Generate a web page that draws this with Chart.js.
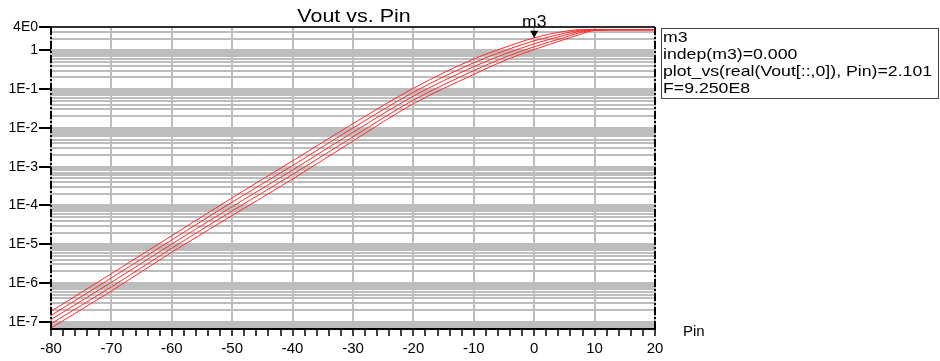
<!DOCTYPE html>
<html>
<head>
<meta charset="utf-8">
<script src="https://cdn.jsdelivr.net/npm/chart.js@4/dist/chart.umd.min.js"></script>
<style>
  html, body { margin: 0; padding: 0; background: #fff; }
  #wrap { width: 940px; height: 361px; }
</style>
</head>
<body>
<div id="wrap"><canvas id="chart" width="940" height="361"></canvas></div>
<script>
// Pin sweep (x values)
const pin = [-80, -70, -60, -50, -40, -30, -20, -10, -5, 0, 5, 7.5, 10, 15, 20];

// Vout traces (top trace to bottom trace)
const vout1 = [1.86e-7, 1.74e-6, 1.66e-5, 1.58e-4, 1.41e-3, 1.29e-2, 0.105, 0.60, 1.17, 2.101, 3.09, 3.40, 3.40, 3.40, 3.40];
const vout2 = [1.45e-7, 1.35e-6, 1.29e-5, 1.22e-4, 1.07e-3, 1.00e-2, 0.083, 0.48, 0.97, 1.77, 2.75, 3.30, 3.39, 3.40, 3.40];
const vout3 = [1.14e-7, 1.04e-6, 1.01e-5, 9.3e-5, 8.2e-4, 7.7e-3, 0.066, 0.38, 0.79, 1.48, 2.45, 3.10, 3.36, 3.40, 3.40];
const vout4 = [8.9e-8, 7.9e-7, 7.9e-6, 7.2e-5, 6.3e-4, 5.9e-3, 0.052, 0.30, 0.65, 1.24, 2.15, 2.85, 3.32, 3.40, 3.40];
const vout5 = [6.9e-8, 6.2e-7, 6.2e-6, 5.5e-5, 4.8e-4, 4.6e-3, 0.042, 0.24, 0.54, 1.05, 1.90, 2.55, 3.27, 3.40, 3.40];

// axis ticks
const xTickValues = [-80, -70, -60, -50, -40, -30, -20, -10, 0, 10, 20];
const yTickValues = [4, 1, 1e-1, 1e-2, 1e-3, 1e-4, 1e-5, 1e-6, 1e-7];
const yTickLabels = ['4E0', '1', '1E-1', '1E-2', '1E-3', '1E-4', '1E-5', '1E-6', '1E-7'];

// marker m3
const markerPin = 0;
const markerValue = 2.101;
const markerLines = ['m3', 'indep(m3)=0.000', 'plot_vs(real(Vout[::,0]), Pin)=2.101', 'F=9.250E8'];

const FONT = '"Liberation Sans", Arial, sans-serif';
const GRID = '#bdbdbd';

function isYMajor(v) {
    return yTickValues.findIndex(t => Math.abs(v - t) / t < 1e-6);
}

function stretchedText(ctx, text, x, y, size, sx, align) {
    ctx.save();
    ctx.font = size + 'px ' + FONT;
    ctx.textAlign = align;
    ctx.textBaseline = 'alphabetic';
    ctx.translate(x, y);
    ctx.scale(sx, 1);
    ctx.fillText(text, 0, 0);
    ctx.restore();
}

const decorations = {
    id: 'decorations',
    afterDraw(chart) {
        const ctx = chart.ctx;
        const area = chart.chartArea;
        const xs = chart.scales.x;
        const ys = chart.scales.y;

        ctx.save();
        ctx.fillStyle = '#000';
        ctx.strokeStyle = '#000';

        // top border
        ctx.lineWidth = 1.5;
        ctx.beginPath();
        ctx.moveTo(area.left, area.top);
        ctx.lineTo(area.right, area.top);
        ctx.stroke();

        // left and right dashed borders
        ctx.lineWidth = 2;
        ctx.setLineDash([8, 2, 2, 2]);
        [area.left, area.right].forEach(x => {
            ctx.beginPath();
            ctx.moveTo(x, area.top);
            ctx.lineTo(x, area.bottom);
            ctx.stroke();
        });
        ctx.setLineDash([]);

        // title
        stretchedText(ctx, 'Vout vs. Pin', (area.left + area.right) / 2 + 1, 21.5, 19, 1.13, 'center');

        // marker triangle + name
        const mx = xs.getPixelForValue(markerPin);
        const my = ys.getPixelForValue(markerValue);
        ctx.beginPath();
        ctx.moveTo(mx - 4, my - 7);
        ctx.lineTo(mx + 4, my - 7);
        ctx.lineTo(mx, my);
        ctx.closePath();
        ctx.fill();
        stretchedText(ctx, 'm3', mx, my - 10.5, 16, 1.1, 'center');

        // marker readout box
        ctx.strokeStyle = '#444';
        ctx.lineWidth = 1;
        ctx.strokeRect(661.5, 28.5, 277, 70);
        markerLines.forEach((line, i) => {
            stretchedText(ctx, line, 663, 42.3 + i * 17, 15, 1.18, 'left');
        });

        // x axis name
        ctx.font = '15px ' + FONT;
        ctx.textAlign = 'left';
        ctx.textBaseline = 'alphabetic';
        ctx.fillText('Pin', 683, 336);

        ctx.restore();
    }
};

const traces = [vout1, vout2, vout3, vout4, vout5];

new Chart(document.getElementById('chart'), {
    type: 'line',
    data: {
        datasets: traces.map(vals => ({
            data: pin.map((p, j) => ({ x: p, y: vals[j] })),
            borderColor: '#ff2a2a',
            borderWidth: 1,
            pointRadius: 0,
            fill: false,
            cubicInterpolationMode: 'monotone'
        }))
    },
    options: {
        responsive: false,
        animation: false,
        devicePixelRatio: 1,
        layout: { padding: { top: 27, right: 285, left: 0, bottom: 0 } },
        plugins: {
            legend: { display: false },
            title: { display: false },
            tooltip: { enabled: false }
        },
        scales: {
            x: {
                type: 'linear',
                min: -80,
                max: 20,
                afterBuildTicks(scale) {
                    const ticks = [];
                    for (let v = -80; v <= 20; v += 2) ticks.push({ value: v });
                    scale.ticks = ticks;
                },
                afterFit(scale) { scale.height = 32; },
                ticks: {
                    autoSkip: false,
                    maxRotation: 0,
                    padding: 4,
                    color: '#000',
                    font: { family: FONT, size: 15 },
                    callback: (v) => xTickValues.includes(v) ? String(v) : ''
                },
                grid: {
                    color: (c) => (c.tick && xTickValues.includes(c.tick.value)) ? GRID : 'rgba(0,0,0,0)',
                    lineWidth: 2,
                    tickColor: '#000',
                    tickWidth: 1.5,
                    tickLength: 7
                },
                border: { display: true, color: '#000', width: 2 }
            },
            y: {
                type: 'logarithmic',
                min: 6.5e-8,
                max: 4,
                afterBuildTicks(scale) {
                    const ticks = [];
                    for (let e = -8; e <= 0; e++) {
                        for (let m = 1; m <= 9; m++) {
                            const v = m * Math.pow(10, e);
                            if (v >= scale.min && v <= scale.max * 1.0001) ticks.push({ value: v });
                        }
                    }
                    scale.ticks = ticks;
                },
                afterFit(scale) { scale.width = 51; },
                ticks: {
                    autoSkip: false,
                    padding: 1,
                    color: '#000',
                    font: { family: FONT, size: 14 },
                    callback: (v) => {
                        const k = isYMajor(v);
                        return k >= 0 ? yTickLabels[k] : '';
                    }
                },
                grid: {
                    color: GRID,
                    lineWidth: 2,
                    tickColor: (c) => (c.tick && isYMajor(c.tick.value) >= 0) ? '#000' : 'rgba(0,0,0,0)',
                    tickWidth: 2,
                    tickLength: 12
                },
                border: { display: false }
            }
        }
    },
    plugins: [decorations]
});
</script>
</body>
</html>
